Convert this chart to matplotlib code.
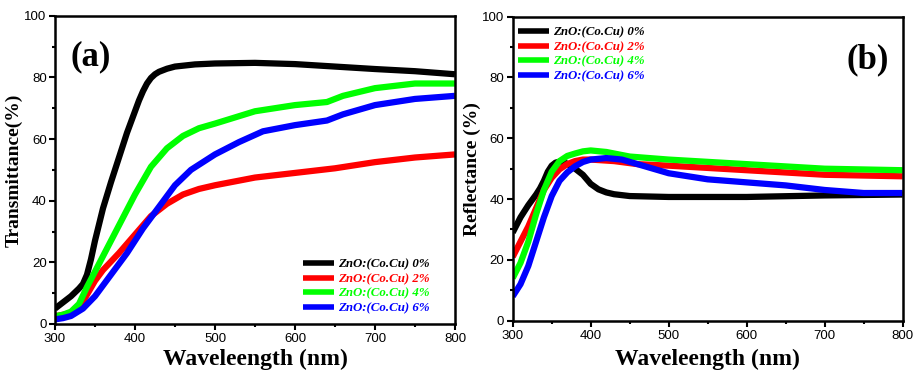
import matplotlib
matplotlib.use('Agg')
import matplotlib.pyplot as plt
from matplotlib.ticker import MultipleLocator

# ---- (a) transmittance ----
wl_t0 = [300, 310, 320, 330, 335, 340, 345, 350, 360, 370, 380, 390, 400, 405, 410, 415, 420, 425, 430, 440, 450,
         475, 500, 550, 600, 650, 700, 750, 800]
t0 = [5, 7, 9, 11.5, 13, 16, 21, 27, 37.5, 46, 54, 62, 69, 72.5, 75.5, 78, 79.8, 81, 81.8, 82.8, 83.5,
      84.2, 84.5, 84.7, 84.3, 83.5, 82.7, 82, 81]
wl_t2 = [300, 310, 320, 330, 340, 350, 360, 380, 400, 420, 440, 460, 480, 500, 550, 600, 650, 700, 750, 800]
t2 = [2.5, 3, 3.6, 5, 9.5, 14, 17.5, 23, 29, 35, 39, 42, 43.8, 45, 47.5, 49, 50.5, 52.5, 54, 55]
wl_t4 = [300, 310, 320, 330, 340, 350, 360, 380, 400, 420, 440, 460, 480, 500, 550, 600, 640, 660, 700, 750, 800]
t4 = [2.5, 3, 4, 6.5, 12, 17, 22, 32, 42, 51, 57, 61, 63.5, 65, 69, 71, 72, 74, 76.5, 78, 78]
wl_t6 = [300, 310, 320, 335, 350, 370, 390, 410, 430, 450, 470, 500, 530, 560, 600, 640, 660, 700, 750, 800]
t6 = [1.5, 1.9, 2.6, 5, 9, 16, 23, 31, 38, 45, 50, 55, 59, 62.5, 64.5, 66, 68, 71, 73, 74]

# ---- (b) reflectance ----
wl_r0 = [300, 310, 320, 330, 335, 340, 345, 350, 355, 360, 365, 370, 380, 390, 395, 400, 410, 420, 430, 450,
         500, 600, 700, 800]
r0 = [29, 34, 38, 41.5, 43.5, 46, 49, 51, 52, 52.3, 52.2, 51.6, 50, 48, 46.5, 45, 43.2, 42.2, 41.6, 41,
      40.7, 40.7, 41.2, 41.5]
wl_r2 = [300, 310, 320, 330, 340, 350, 360, 370, 380, 390, 400, 430, 460, 500, 600, 700, 800]
r2 = [21, 26, 31, 37, 43, 47, 49.8, 51.5, 52.5, 53, 53, 52.5, 51.5, 51, 49.5, 48, 47.5]
wl_r4 = [300, 310, 320, 330, 340, 350, 360, 370, 380, 390, 400, 420, 450, 500, 600, 700, 800]
r4 = [14, 19, 26, 35, 43, 49, 52.5, 54.2, 55, 55.7, 56, 55.5, 54, 53, 51.5, 50, 49.5]
wl_r6 = [300, 310, 320, 330, 340, 350, 360, 370, 380, 390, 400, 420, 440, 460, 500, 550, 600, 650, 700, 750, 800]
r6 = [8, 12, 18, 26, 34, 41, 46, 48.8, 50.8, 52.2, 53, 53.5, 53, 51.5, 48.5, 46.5, 45.5, 44.5, 43, 42, 42]

labels = ['ZnO:(Co.Cu) 0%', 'ZnO:(Co.Cu) 2%', 'ZnO:(Co.Cu) 4%', 'ZnO:(Co.Cu) 6%']
colors = ['#000000', '#ff0000', '#00ff00', '#0000ff']

serif = ['Liberation Serif', 'DejaVu Serif']
plt.rcParams['font.family'] = ['Liberation Sans', 'DejaVu Sans']

fig = plt.figure(figsize=(9.18, 3.71), dpi=100)
ax1 = fig.add_axes([0.0599, 0.1267, 0.4357, 0.831])
ax2 = fig.add_axes([0.5585, 0.1356, 0.4248, 0.8194])


def style_ax(ax, ylabel, xpad):
    ax.set_xlim(300, 800)
    ax.set_ylim(0, 100)
    ax.xaxis.set_major_locator(MultipleLocator(100))
    ax.xaxis.set_minor_locator(MultipleLocator(50))
    ax.yaxis.set_major_locator(MultipleLocator(20))
    ax.yaxis.set_minor_locator(MultipleLocator(10))
    ax.tick_params(which='both', direction='out', width=1.5)
    ax.tick_params(which='major', length=4, labelsize=9.5)
    ax.tick_params(axis='x', pad=2.5)
    ax.tick_params(axis='y', pad=2)
    ax.tick_params(which='minor', length=2.5)
    for s in ax.spines.values():
        s.set_linewidth(1.8)
    ax.set_xlabel('Waveleength (nm)', family=serif, fontweight='bold', fontsize=17, labelpad=xpad)
    ax.set_ylabel(ylabel, family=serif, fontweight='bold', fontsize=14, labelpad=1)


lw = 4.5
for x, y, c, l in zip([wl_t0, wl_t2, wl_t4, wl_t6], [t0, t2, t4, t6], colors, labels):
    ax1.plot(x, y, color=c, lw=lw, label=l, solid_capstyle='butt', solid_joinstyle='round')
for x, y, c, l in zip([wl_r0, wl_r2, wl_r4, wl_r6], [r0, r2, r4, r6], colors, labels):
    ax2.plot(x, y, color=c, lw=lw, label=l, solid_capstyle='butt', solid_joinstyle='round')

style_ax(ax1, 'Transmittance(%)', 3)
style_ax(ax2, 'Reflectance (%)', 5)

ax1.text(0.04, 0.84, '(a)', transform=ax1.transAxes, family=serif, fontweight='bold', fontsize=25)
ax2.text(0.855, 0.83, '(b)', transform=ax2.transAxes, family=serif, fontweight='bold', fontsize=25)

leg_font = {'family': serif, 'weight': 'bold', 'style': 'italic', 'size': 9.3}
for ax, loc, anchor in [(ax1, 'lower right', (0.96, 0.0)), (ax2, 'upper left', (-0.01, 1.0))]:
    leg = ax.legend(loc=loc, bbox_to_anchor=anchor, prop=leg_font, frameon=False,
                    handlelength=2.4, handletextpad=0.3, labelspacing=0.2, borderaxespad=0.35)
    for line, text, c in zip(leg.get_lines(), leg.get_texts(), colors):
        line.set_linewidth(4)
        text.set_color(c)

fig.savefig('out.png', dpi=100)
